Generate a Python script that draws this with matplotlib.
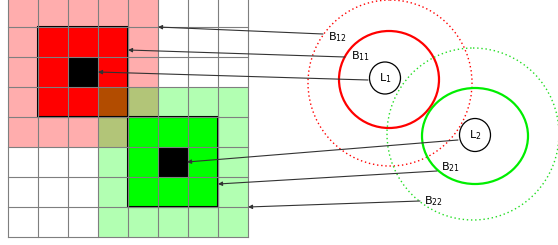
import matplotlib.pyplot as plt
from matplotlib.patches import Rectangle, Ellipse

# grid of 8x8 cells, positions in pixels of the picture
n_cells = 8
cell = 30
x0, y0 = 8, -3

# (col, row, ncols, nrows, colour, alpha) for the shaded blocks, drawn in order
blocks = [
    (0, 0, 5, 5, 'red', 0.32),
    (1, 1, 3, 3, 'red', 1.0),
    (3, 3, 5, 5, '#00ff00', 0.3),
    (4, 4, 3, 3, '#00ff00', 1.0),
    (2, 2, 1, 1, 'black', 1.0),
    (5, 5, 1, 1, 'black', 1.0),
]
borders = [(1, 1, 3, 3), (4, 4, 3, 3)]

# circles: centre x, centre y, width, height, colour, style, width of line
circles = [
    (390, 83, 164, 166, 'red', (0, (1, 2)), 1.0),
    (389, 79.5, 100, 97, 'red', '-', 1.6),
    (473, 134, 172, 172, '#22dd22', (0, (1, 2)), 1.0),
    (475, 136, 106, 96, '#00ee00', '-', 1.6),
    (385, 78, 31, 32, 'black', '-', 0.9),
    (475, 135, 31, 33, 'black', '-', 0.9),
]

# labels: text, x, y
labels = [('B$_{12}$', 328, 37), ('B$_{11}$', 351, 56), ('B$_{21}$', 441, 167),
          ('B$_{22}$', 424, 201)]
centres = [('L$_1$', 385, 78), ('L$_2$', 475, 135)]

# arrows: start (x, y) -> end (x, y)
arrows = [
    ((323, 34), (158, 27)),
    ((345, 57), (128, 50)),
    ((368, 80), (98, 72)),
    ((458, 140), (187, 162)),
    ((437, 171), (218, 184)),
    ((420, 201), (248, 207)),
]

fig = plt.figure(figsize=(5.58, 2.45), dpi=100)
ax = fig.add_axes([0, 0, 1, 1])
ax.set_xlim(0, 558)
ax.set_ylim(245, 0)
ax.axis('off')

for c, r, w, h, col, a in blocks:
    ax.add_patch(Rectangle((x0 + c * cell, y0 + r * cell), w * cell, h * cell,
                           facecolor=col, alpha=a, edgecolor='none'))

for i in range(n_cells + 1):
    ax.plot([x0 + i * cell] * 2, [y0, y0 + n_cells * cell], color='#7f7f7f', lw=0.8)
    ax.plot([x0, x0 + n_cells * cell], [y0 + i * cell] * 2, color='#7f7f7f', lw=0.8)

for c, r, w, h in borders:
    ax.add_patch(Rectangle((x0 + c * cell, y0 + r * cell), w * cell, h * cell,
                           facecolor='none', edgecolor='black', lw=1.5))

for cx, cy, w, h, col, ls, lw in circles:
    ax.add_patch(Ellipse((cx, cy), w, h, facecolor='none', edgecolor=col, ls=ls, lw=lw))

for (sx, sy), (ex, ey) in arrows:
    ax.annotate('', xy=(ex, ey), xytext=(sx, sy),
                arrowprops=dict(arrowstyle='-|>', color='#333333', lw=0.8,
                                mutation_scale=6, shrinkA=0, shrinkB=0))

for t, x, y in labels:
    ax.text(x, y, t, fontsize=8, ha='left', va='center')
for t, x, y in centres:
    ax.text(x, y, t, fontsize=8, ha='center', va='center')

fig.savefig('out.png', dpi=100)
